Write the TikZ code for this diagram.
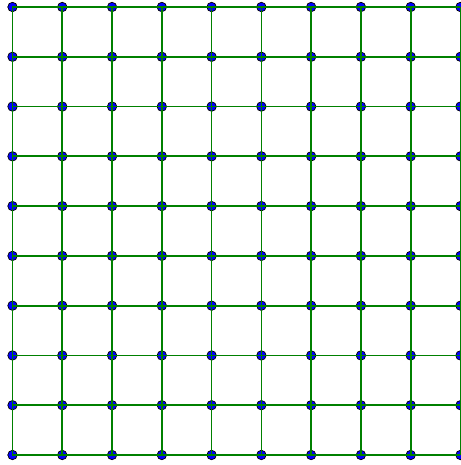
\documentclass[tikz,border=0pt]{standalone}
\begin{document}
\begin{tikzpicture}[x=1cm,y=1cm,
  vertex/.style={circle,draw=black,fill=blue,inner sep=0pt,minimum size=0.19cm,line width=0.4pt},
  link/.style={draw=green!50!black,line width=1pt}]
  \useasboundingbox (-0.251,-0.201) rectangle (8.995,9.141);
  \foreach \i in {0,...,9}
    \foreach \j in {0,...,9}
      \node[vertex] (v-\i-\j) at (\i,\j) {};
  \foreach \i in {0,...,9}
    \foreach \j [count=\k] in {0,...,8}
      {\draw[link] (v-\i-\j.center) -- (v-\i-\k.center);
       \draw[link] (v-\j-\i.center) -- (v-\k-\i.center);}
\end{tikzpicture}
\end{document}
